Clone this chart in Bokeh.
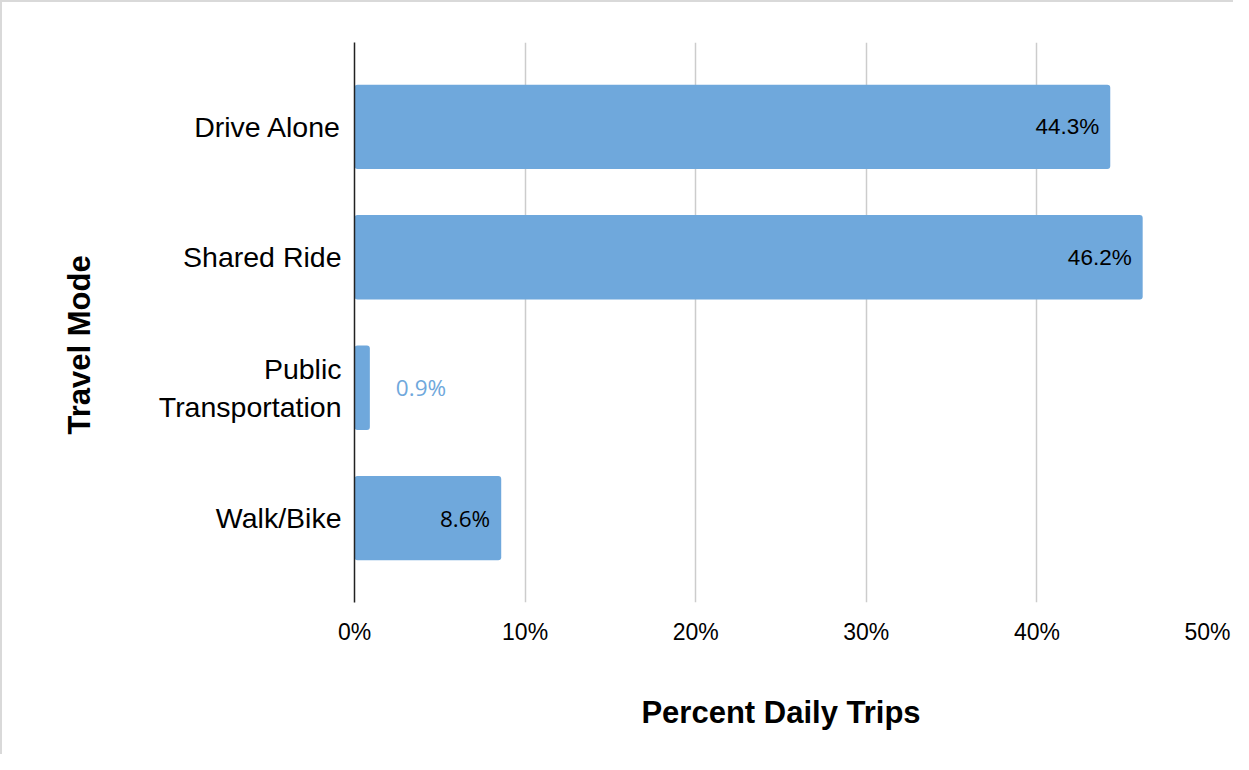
from bokeh.plotting import figure
from bokeh.models import ColumnDataSource, FactorRange, Title, FixedTicker, NumeralTickFormatter
from bokeh.embed import file_html
from bokeh.resources import INLINE

modes = ["Drive Alone", "Shared Ride", "Public\nTransportation", "Walk/Bike"]
percent = [44.3, 46.2, 0.9, 8.6]
label_texts = ["44.3%", "46.2%", "0.9%", "8.6%"]
label_fonts = ["Liberation Sans", "Liberation Sans", "Open Sans", "Open Sans"]
x_ticks = [0, 10, 20, 30, 40, 50]

BAR = "#6fa8dc"

factors = list(reversed(modes))
p = figure(width=1233, height=754, output_backend="svg", toolbar_location=None,
           y_range=FactorRange(factors=factors, range_padding=0.073),
           x_range=(0, 50),
           min_border_left=352, min_border_right=28, min_border_top=40, min_border_bottom=154)
p.styles = {"border-top": "2px solid #d9d9d9", "border-left": "2px solid #d9d9d9",
            "box-sizing": "border-box"}
p.outline_line_color = None
p.background_fill_color = "white"
p.border_fill_color = "white"

src = ColumnDataSource(dict(mode=modes, pct=percent))
p.hbar(y="mode", right="pct", left=0, height=0.646, source=src, color=BAR,
       line_color=None, border_radius=3)

inside = [i for i, v in enumerate(percent) if v >= 5]
outside = [i for i, v in enumerate(percent) if v < 5]
src_in = ColumnDataSource(dict(mode=[modes[i] for i in inside], pct=[percent[i] for i in inside],
                               txt=[label_texts[i] for i in inside], font=[label_fonts[i] for i in inside]))
src_out = ColumnDataSource(dict(mode=[modes[i] for i in outside], pct=[percent[i] for i in outside],
                                txt=[label_texts[i] for i in outside], font=[label_fonts[i] for i in outside]))
p.text(x="pct", y="mode", text="txt", source=src_in, text_font="font",
       text_font_size="22.5px", text_color="#000000", text_align="right",
       text_baseline="middle", x_offset=-11)
p.text(x="pct", y="mode", text="txt", source=src_out, text_font="font",
       text_font_size="22.5px", text_color=BAR, text_align="left",
       text_baseline="middle", x_offset=26)

p.xaxis.ticker = FixedTicker(ticks=x_ticks)
p.xaxis.formatter = NumeralTickFormatter(format="0")
p.xaxis.major_label_overrides = {t: f"{t}%" for t in x_ticks}
p.xaxis.axis_line_color = None
p.xaxis.major_tick_line_color = None
p.xaxis.minor_tick_line_color = None
p.xaxis.major_label_standoff = 10
p.xaxis.major_label_text_font = "Liberation Sans"
p.xaxis.major_label_text_font_size = "23px"
p.xaxis.major_label_text_color = "#000000"
p.xaxis.axis_label = "Percent Daily Trips"
p.xaxis.axis_label_text_font = "Liberation Sans"
p.xaxis.axis_label_text_font_style = "bold"
p.xaxis.axis_label_text_font_size = "31px"
p.xaxis.axis_label_text_color = "#000000"
p.xaxis.axis_label_standoff = 47

p.yaxis.axis_line_color = "#222222"
p.yaxis.axis_line_width = 1.5
p.yaxis.major_tick_line_color = None
p.yaxis.minor_tick_line_color = None
p.yaxis.major_label_standoff = 7
p.yaxis.major_label_text_font = "Liberation Sans"
p.yaxis.major_label_text_font_size = "28.5px"
p.yaxis.major_label_text_color = "#000000"

p.ygrid.grid_line_color = None
p.xgrid.ticker = FixedTicker(ticks=x_ticks[1:])
p.xgrid.grid_line_color = "#cccccc"
p.xgrid.grid_line_width = 1.5

p.add_layout(Title(text="Travel Mode", align="left", vertical_align="top",
                   offset=168, standoff=114, text_font="Liberation Sans",
                   text_font_style="bold", text_font_size="31px", text_color="#000000"),
             "left")

open("out.html", "w").write(file_html(p, INLINE))
